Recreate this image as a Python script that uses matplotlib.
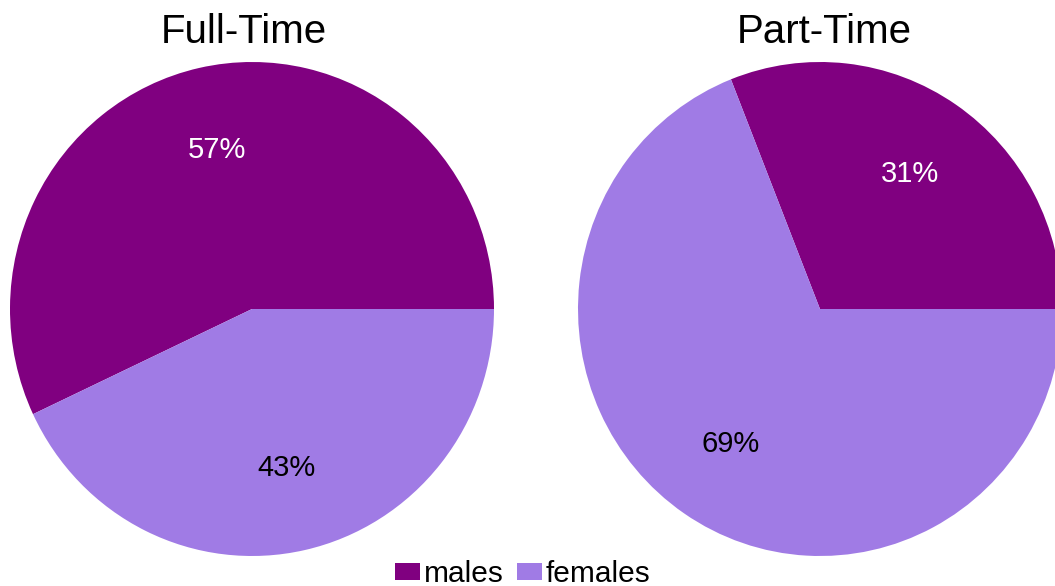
import matplotlib
matplotlib.use("Agg")
import matplotlib.pyplot as plt
from matplotlib.patches import Patch

plt.rcParams['font.family'] = ['Liberation Sans', 'DejaVu Sans']

categories = ["males", "females"]
full_time = [57, 43]
part_time = [31, 69]
titles = ["Full-Time", "Part-Time"]
colors = ["#800080", "#a07be5"]
label_colors = ["white", "black"]

W, H = 1055, 586
fig = plt.figure(figsize=(W / 100, H / 100), dpi=100)

def px_axes(x0, y0, w, h):
    return fig.add_axes([x0 / W, (H - y0 - h) / H, w / W, h / H])

axes = [px_axes(10, 62, 484, 494), px_axes(578, 62, 484, 494)]
title_x = [0.5 - 8 / 484, 0.5 + 4 / 484]

for ax, vals, title, tx in zip(axes, [full_time, part_time], titles, title_x):
    wedges, texts, autotexts = ax.pie(
        vals, colors=colors, startangle=0, counterclock=True,
        autopct=lambda p: f"{p:.0f}%", pctdistance=0.66,
        radius=1, wedgeprops=dict(linewidth=0),
        textprops=dict(fontsize=21))
    for t, c in zip(autotexts, label_colors):
        t.set_color(c)
    ax.set_xlim(-1, 1)
    ax.set_ylim(-1, 1)
    ax.set_aspect('auto')
    ax.set_title(title, fontsize=29, pad=14, x=tx)

handles = [Patch(facecolor=c, edgecolor='none') for c in colors]
fig.legend(handles, categories, loc='lower center', ncol=2,
           bbox_to_anchor=(0.4955, -0.029), frameon=False, fontsize=21.5,
           handlelength=0.85, handleheight=0.55, handletextpad=0.12,
           columnspacing=0.45, borderpad=0.0)

fig.savefig("out.png", dpi=100)
